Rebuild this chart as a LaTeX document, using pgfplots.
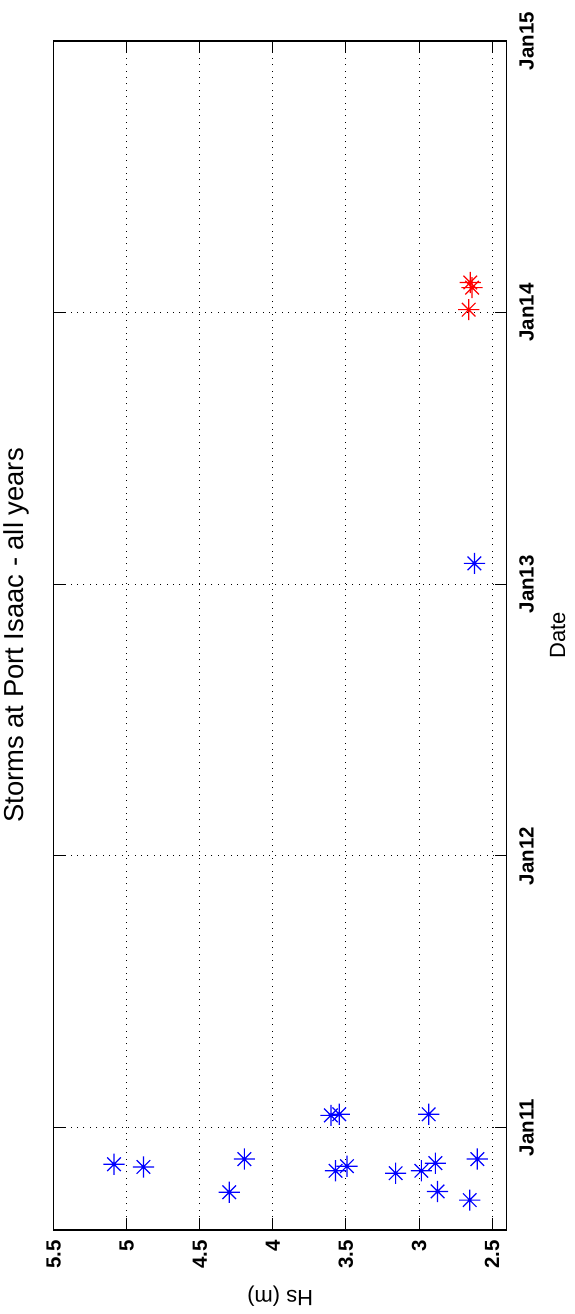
\documentclass[border=0pt]{standalone}
\usepackage{graphicx}
\usepackage{fontspec}
\setmainfont{Liberation Sans}
\usepackage{pgfplots}
\pgfplotsset{compat=1.18}

\pgfdeclareplotmark{mstar}{%
  \pgfpathmoveto{\pgfqpoint{-\pgfplotmarksize}{0pt}}%
  \pgfpathlineto{\pgfqpoint{\pgfplotmarksize}{0pt}}%
  \pgfpathmoveto{\pgfqpoint{0pt}{-\pgfplotmarksize}}%
  \pgfpathlineto{\pgfqpoint{0pt}{\pgfplotmarksize}}%
  \pgfpathmoveto{\pgfqpoint{-0.64\pgfplotmarksize}{-0.64\pgfplotmarksize}}%
  \pgfpathlineto{\pgfqpoint{0.64\pgfplotmarksize}{0.64\pgfplotmarksize}}%
  \pgfpathmoveto{\pgfqpoint{-0.64\pgfplotmarksize}{0.64\pgfplotmarksize}}%
  \pgfpathlineto{\pgfqpoint{0.64\pgfplotmarksize}{-0.64\pgfplotmarksize}}%
  \pgfusepathqstroke
}

\begin{document}
\rotatebox{90}{%
\begin{tikzpicture}
\path[use as bounding box] (-42bp,-34.15bp) rectangle (615bp,253.35bp);
\begin{axis}[
  scale only axis, width=594.5bp, height=226.5bp,
  xmin=2010.623, xmax=2015, ymin=2.4, ymax=5.5,
  xtick={2011,2012,2013,2014,2015},
  xticklabels={Jan11,Jan12,Jan13,Jan14,Jan15},
  ytick={2.5,3,3.5,4,4.5,5,5.5},
  yticklabels={2.5,3,3.5,4,4.5,5,5.5},
  tick align=inside, major tick length=6bp,
  tick style={black, line width=0.5bp},
  axis line style={black, line width=0.6bp},
  grid=major,
  major grid style={black, line width=0.5bp, dash pattern=on 0.5bp off 2.7bp},
  ticklabel style={font=\fontsize{10.25bp}{12bp}\selectfont\bfseries, inner sep=0pt},
  xticklabel style={anchor=north, yshift=-6.15bp},
  yticklabel style={anchor=east, xshift=-5bp},
  title={Storms at Port Isaac - all years},
  title style={at={(0.5,1.04106)}, anchor=base, inner sep=0pt, font=\fontsize{13.7bp}{16bp}\selectfont},
  xlabel={Date},
  xlabel style={at={(0.5,-0.1289)}, anchor=base, inner sep=0pt, font=\fontsize{11bp}{13bp}\selectfont},
  ylabel={Hs (m)},
  ylabel style={at={(-0.05046,0.5)}, anchor=base, inner sep=0pt, font=\fontsize{11bp}{13bp}\selectfont},
]
\addplot[only marks, mark=mstar, mark size=5.3bp, blue, mark options={line width=0.6bp}] coordinates {
  (2010.865, 5.087)
  (2010.855, 4.886)
  (2010.884, 4.195)
  (2010.762, 4.299)
  (2011.045, 3.603)
  (2011.049, 3.546)
  (2011.049, 2.934)
  (2010.841, 3.571)
  (2010.858, 3.493)
  (2010.832, 3.160)
  (2010.841, 2.984)
  (2010.869, 2.888)
  (2010.765, 2.873)
  (2010.733, 2.653)
  (2010.884, 2.601)
  (2013.077, 2.621)
};
\addplot[only marks, mark=mstar, mark size=5.3bp, red, mark options={line width=0.6bp}] coordinates {
  (2014.111, 2.649)
  (2014.092, 2.637)
  (2014.011, 2.660)
};
\end{axis}
\end{tikzpicture}%
}
\end{document}
